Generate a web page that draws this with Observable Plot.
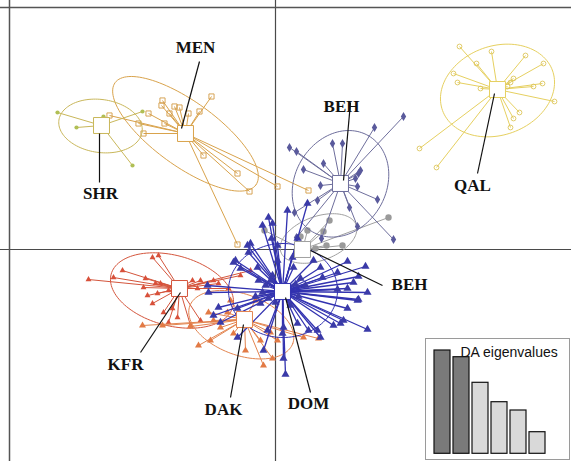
<!DOCTYPE html>
<html><head><meta charset="utf-8">
<script src="https://cdn.jsdelivr.net/npm/d3@7"></script>
<script src="https://cdn.jsdelivr.net/npm/@observablehq/plot@0.6"></script>
<style>
body{margin:0;background:#fff}
#wrap{position:relative;width:571px;height:461px;overflow:hidden;background:#fff}
#inset{position:absolute;left:425px;top:338px;border:1px solid #9a9a9a;background:#fff;line-height:0}
</style></head><body><div id="wrap"></div>
<script>
// ---- DAPC scatter data (LD1, LD2) ----
const centroids = [
  {pop:"SHR", x:-17.4, y:12.4},
  {pop:"MEN", x:-9.0, y:11.6},
  {pop:"QAL", x:22.2, y:16.0},
  {pop:"BEH2", x:2.7, y:0.0},
  {pop:"BEH", x:6.5, y:6.6},
  {pop:"KFR", x:-9.6, y:-3.9},
  {pop:"DAK", x:-3.1, y:-7.0},
  {pop:"DOM", x:0.7, y:-4.2}
];
const SHR = [[-21.8,13.7],[-19.9,12.2],[-17.2,13.3],[-14.3,8.4],[-13.3,13.8]];
const MEN = [[-6.4,15.3],[-11.3,14.9],[-11.4,14.4],[-10.1,14.3],[-9.6,14.2],[-10.6,13.6],[-8.7,13.6],[-7.6,13.8],[-12.7,13.6],[-16.6,13.4],[-13.7,12.6],[-11.1,12.6],[-13.2,11.6],[-7.2,9.4],[-3.8,7.6],[-2.6,5.8],[0.2,6.3],[3.3,5.9],[-3.8,0.5]];
const QAL = [[18.4,20.3],[21.6,19.8],[25.0,19.4],[26.8,18.6],[20.1,18.6],[17.8,17.6],[18.2,16.7],[20.5,16.1],[26.7,16.6],[25.8,16.3],[23.8,17.1],[23.5,16.7],[23.2,16.3],[27.9,14.8],[24.4,13.7],[23.8,13.1],[23.5,12.2],[14.4,10.1],[16.1,8.2]];
const BEH = [[12.8,13.3],[9.9,12.2],[8.5,7.9],[8.3,7.6],[8.0,7.1],[8.2,6.3],[4.8,8.6],[2.8,8.0],[1.4,10.2],[2.1,9.8],[5.7,10.6],[6.7,10.6],[10.2,5.0],[4.5,6.4],[7.4,4.2],[8.2,2.3],[11.8,1.0],[4.2,4.9],[1.9,3.7],[2.1,1.2],[4.6,1.1]];
const BEH2 = [[11.3,3.2],[5.4,2.9],[4.8,1.8],[3.2,1.9],[-1.1,1.9],[5.1,0.4],[6.7,0.4],[4.0,0.1],[2.5,1.3]];
const KFR = [[-18.7,-3.0],[-16.2,-2.8],[-15.3,-2.1],[-12.3,-0.8],[-11.7,-0.6],[-13.0,-2.9],[-13.2,-3.8],[-12.0,-3.4],[-12.8,-4.6],[-12.3,-5.4],[-11.5,-3.4],[-11.8,-4.4],[-10.7,-4.1],[-11.2,-6.3],[-10.3,-5.9],[-9.8,-6.8],[-10.7,-7.3],[-8.3,-3.1],[-7.5,-3.1],[-6.2,-3.1],[-5.7,-3.4],[-7.8,-3.9],[-4.7,-3.9],[-8.5,-7.6],[-7.5,-7.1],[-3.5,-2.6],[-2.5,-2.1]];
const DAK = [[-13.3,-7.6],[-11.3,-7.6],[-8.5,-7.7],[-6.5,-9.1],[-4.2,-8.4],[-3.0,-10.1],[-1.2,-11.6],[-0.3,-10.9],[-6.7,-6.3],[-4.8,-6.3],[-6.2,-7.1],[-5.5,-7.8],[-0.5,-8.3],[-1.5,-9.1],[0.2,-9.1],[2.8,-8.8],[4.3,-8.9],[-4.5,-5.1],[-2.0,-5.1],[-7.7,-9.6]];
const DOM = [[-2.8,0.4],[-4.2,-1.3],[-3.5,-1.9],[7.2,-1.2],[9.0,-1.7],[6.2,-2.3],[7.8,-3.3],[9.2,-4.3],[6.2,-4.0],[8.2,-5.1],[7.2,-5.9],[9.2,-8.0],[6.8,-7.1],[5.8,-7.6],[4.5,-8.8],[3.3,-8.1],[0.8,-7.8],[0.8,-10.9],[-1.2,-10.1],[-3.8,-8.8],[-6.7,-4.3],[-6.2,-6.6],[-5.5,-7.3],[-3.8,-5.9],[-1.8,-1.8],[0.2,-1.1],[1.8,-1.8],[3.8,-1.1],[4.5,-1.8],[-0.7,3.2],[-0.3,2.6],[1.2,3.9],[3.2,4.6],[-2.5,0.6],[-2.7,-0.3],[-4.0,-1.1],[1.7,-0.8],[4.7,-2.8],[8.3,-2.7],[7.2,-3.9],[8.3,-5.0],[6.5,-7.4],[4.2,-8.1],[2.2,-7.4],[0.7,-8.4],[-0.8,-8.1],[-5.7,-5.8],[-6.8,-3.6],[2.2,1.1],[0.2,0.4],[1.0,-12.5],[-0.4,1.1],[-1.3,2.4],[-1.0,-3.6],[-0.5,-3.1],[-1.3,-4.3],[-0.7,-4.9],[0.0,-5.3],[2.0,-3.5],[2.5,-2.9],[2.3,-4.7],[1.5,-5.6],[-0.3,-2.6],[-1.7,-3.1],[-2.0,-4.7],[3.0,-3.6],[-1.5,-5.4]];
// inertia ellipses: centre, semi-axes, rotation (degrees)
const ellipses = [
  {pop:"SHR", cx:-17.5, cy:12.35, a:4.2, b:2.65, angle:-8},
  {pop:"MEN", cx:-9.0, cy:11.57, a:8.7, b:3.2, angle:-36},
  {pop:"QAL", cx:22.2, cy:15.9, a:5.85, b:4.45, angle:20},
  {pop:"BEH2", cx:4.3, cy:1.1, a:4.0, b:2.2, angle:20},
  {pop:"BEH", cx:6.5, cy:6.57, a:5.56, b:4.56, angle:60},
  {pop:"KFR", cx:-10.35, cy:-4.1, a:6.3, b:3.52, angle:-15},
  {pop:"DAK", cx:-3.42, cy:-7.52, a:5.48, b:3.05, angle:-20},
  {pop:"DOM", cx:0.75, cy:-4.1, a:5.45, b:4.7, angle:0}
];
// group labels with leader lines (edited annotation)
const labels = [
  {text:"MEN", lx:-8.0, ly:20.2, x1:-7.6, y1:18.8, x2:-9.4, y2:12.1},
  {text:"SHR", lx:-17.5, ly:5.6, x1:-17.6, y1:11.6, x2:-17.6, y2:6.7},
  {text:"BEH", lx:6.6, ly:14.3, x1:7.5, y1:14.7, x2:6.8, y2:6.9},
  {text:"QAL", lx:19.7, ly:6.4, x1:20.2, y1:7.6, x2:21.9, y2:15.6},
  {text:"BEH", lx:13.4, ly:-3.5, x1:3.5, y1:-0.1, x2:10.7, y2:-3.6},
  {text:"DOM", lx:3.3, ly:-15.4, x1:3.5, y1:-14.3, x2:1.0, y2:-4.8},
  {text:"DAK", lx:-5.2, ly:-16.0, x1:-4.5, y1:-14.8, x2:-3.2, y2:-7.5},
  {text:"KFR", lx:-15.0, ly:-11.5, x1:-13.5, y1:-10.3, x2:-9.5, y2:-4.3}
];
// DA eigenvalues (inset)
const eigenvalues = [103.3, 96.6, 71.0, 51.6, 43.3, 21.6];
const nRetained = 2;

const pointsByPop = {SHR, MEN, QAL, BEH2, BEH, KFR, DAK, DOM};
const style = {
  SHR: {line:"#c9b75a", fill:"#b0bf55", stroke:"none", symbol:"circle", r:2.1},
  MEN: {line:"#d9a34c", fill:"none", stroke:"#d39b45", symbol:"square", r:2.9},
  QAL: {line:"#e6d060", fill:"none", stroke:"#dcc55a", symbol:"circle", r:2.4},
  BEH2:{line:"#a0a0a0", fill:"#9a9a9a", stroke:"none", symbol:"circle", r:3.2},
  BEH: {line:"#6e6e9c", fill:"#5a5a9c", stroke:"none", symbol:"diamond", r:2.8},
  KFR: {line:"#d4553c", fill:"#d8503a", stroke:"none", symbol:"triangle", r:2.2},
  DAK: {line:"#e3844f", fill:"#e27a45", stroke:"none", symbol:"triangle", r:2.6},
  DOM: {line:"#3232b0", fill:"#3a3aa8", stroke:"none", symbol:"triangle", r:3.0}
};
const order = ["MEN","SHR","QAL","BEH2","BEH","KFR","DAK","DOM"];

function ellipsePath(e) {
  const th = e.angle * Math.PI / 180, out = [];
  for (let i = 0; i <= 120; i++) {
    const t = i / 120 * 2 * Math.PI;
    out.push({x: e.cx + e.a*Math.cos(t)*Math.cos(th) - e.b*Math.sin(t)*Math.sin(th),
              y: e.cy + e.a*Math.cos(t)*Math.sin(th) + e.b*Math.sin(t)*Math.cos(th)});
  }
  return out;
}
const cen = Object.fromEntries(centroids.map(c => [c.pop, c]));

const marks = [
  Plot.ruleX([0], {stroke:"#4a4a4a", strokeWidth:1.2}),
  Plot.ruleY([0], {stroke:"#4a4a4a", strokeWidth:1.2}),
  Plot.ruleX([-26.6], {stroke:"#555", strokeWidth:1.5}),
  Plot.ruleY([24.2], {stroke:"#555", strokeWidth:1.5})
];
for (const p of order) {
  const s = style[p], c = cen[p];
  const pts = pointsByPop[p].map(([x, y]) => ({x, y, cx:c.x, cy:c.y}));
  const e = ellipses.find(d => d.pop === p);
  marks.push(Plot.line(ellipsePath(e), {x:"x", y:"y", stroke:s.line, strokeWidth:1, curve:"linear"}));
  marks.push(Plot.link(pts, {x1:"cx", y1:"cy", x2:"x", y2:"y", stroke:s.line, strokeWidth: p === "DOM" ? 1.3 : 1}));
  marks.push(Plot.dot(pts, {x:"x", y:"y", symbol:s.symbol, r:s.r, fill:s.fill, stroke:s.stroke, strokeWidth:0.9}));
}
marks.push(Plot.dot(centroids, {x:"x", y:"y", symbol:"square", r:9, fill:"white",
  stroke: d => style[d.pop].line, strokeWidth:1}));
marks.push(Plot.link(labels, {x1:"x1", y1:"y1", x2:"x2", y2:"y2", stroke:"#111", strokeWidth:1.2}));
marks.push(Plot.text(labels, {x:"lx", y:"ly", text:"text", fontFamily:"Liberation Serif", fontWeight:"bold",
  fontSize:17, fill:"#111", textAnchor:"middle", lineAnchor:"middle"}));

const main = Plot.plot({
  width:571, height:461, margin:0,
  x:{domain:[-27.5, 29.6], axis:null},
  y:{domain:[-21.2, 24.9], axis:null},
  marks
});
const wrap = document.getElementById("wrap");
wrap.appendChild(main);

const inset = Plot.plot({
  width:143, height:120, marginLeft:2.2, marginRight:19.5, marginTop:0, marginBottom:5.7,
  x:{type:"band", domain:d3.range(eigenvalues.length), padding:0.18, axis:null},
  y:{domain:[0, 114.3], axis:null},
  marks:[
    Plot.barY(eigenvalues.map((v, i) => ({i, v})), {x:"i", y:"v",
      fill: d => d.i < nRetained ? "#7a7a7a" : "#d9d9d9", stroke:"#111", strokeWidth:1.2}),
    Plot.text(["DA eigenvalues"], {frameAnchor:"top-left", dx:31.8, dy:12.7, text:d => d,
      textAnchor:"start", lineAnchor:"middle", fontFamily:"Liberation Sans", fontSize:14, fill:"#111"})
  ]
});
const div = document.createElement("div");
div.id = "inset";
div.appendChild(inset);
wrap.appendChild(div);
</script></body></html>
